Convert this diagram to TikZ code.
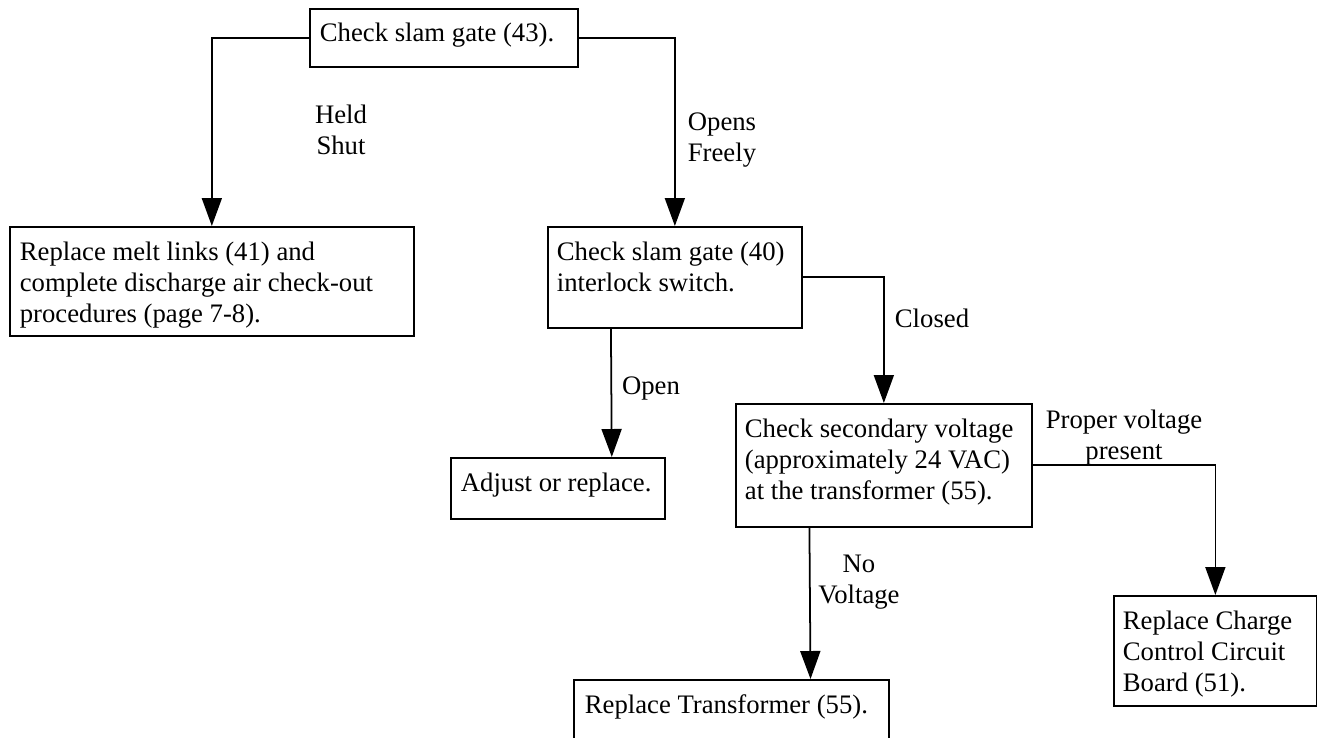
\documentclass[tikz,border=0pt]{standalone}
\usepackage{fontspec}
\setmainfont{Liberation Serif}
\usetikzlibrary{arrows.meta,calc}
\begin{document}
\begin{tikzpicture}[x=0.02cm,y=-0.02cm,line width=1pt,>={Triangle[length=5.6mm,width=4mm]},
box/.style={draw,anchor=north west,inner sep=0pt},
txt/.style={anchor=base west,align=left,inner sep=0pt,font=\fontsize{15.2}{17.6}\selectfont},
lbl/.style={anchor=base,align=center,inner sep=0pt,font=\fontsize{15.2}{17.6}\selectfont}]
\clip (0,0) rectangle (1317,737);
\node[box,minimum width=5.36cm,minimum height=1.16cm] (gate) at (309,8) {};
\node[box,minimum width=8.08cm,minimum height=2.18cm] (melt) at (9,226) {};
\node[box,minimum width=5.08cm,minimum height=2.02cm] (sw) at (547,226) {};
\node[box,minimum width=4.28cm,minimum height=1.22cm] (adj) at (450,457) {};
\node[box,minimum width=5.92cm,minimum height=2.46cm] (volt) at (735,403) {};
\node[box,minimum width=4.06cm,minimum height=2.2cm] (board) at (1113,595) {};
\node[box,minimum width=6.3cm,minimum height=1.6cm] (trans) at (573,679) {};
\node[txt] (gate-t) at ([shift={(10,33)}]gate.north west) {Check slam gate (43).};
\node[txt] (melt-t) at ([shift={(10,96)}]melt.north west) {Replace melt links (41) and\\complete discharge air check-out\\procedures (page 7-8).};
\node[txt] (sw-t) at ([shift={(9,65)}]sw.north west) {Check slam gate (40)\\interlock switch.};
\node[txt] (adj-t) at ([shift={(10,34)}]adj.north west) {Adjust or replace.};
\node[txt] (volt-t) at ([shift={(9,96)}]volt.north west) {Check secondary voltage\\(approximately 24 VAC)\\at the transformer (55).};
\node[txt] (board-t) at ([shift={(9,96)}]board.north west) {Replace Charge\\Control Circuit\\Board (51).};
\node[txt] (trans-t) at ([shift={(11,34)}]trans.north west) {Replace Transformer (55).};
\draw[->] (gate.west) -| (melt.north);
\draw[->] (gate.east) -| (sw.north);
\draw[->] (sw.east) -| (volt.north);
\draw[->] (volt.east) -| (board.north);
\draw[->] ($(sw.south west)!.25!(sw.south east)$) -- ($(adj.north west)!.75!(adj.north east)$);
\draw[->] ($(volt.south west)!.25!(volt.south east)$) -- ($(trans.north west)!.75!(trans.north east)$);
\node[lbl] (held) at (341,154) {Held\\Shut};
\node[lbl] (opens) at (722,161) {Opens\\Freely};
\node[lbl] (closed) at (932,327) {Closed};
\node[lbl] (open) at (651,394) {Open};
\node[lbl] (proper) at (1124,459) {Proper voltage\\present};
\node[lbl] (novolt) at (859,603) {No\\Voltage};
\end{tikzpicture}
\end{document}
